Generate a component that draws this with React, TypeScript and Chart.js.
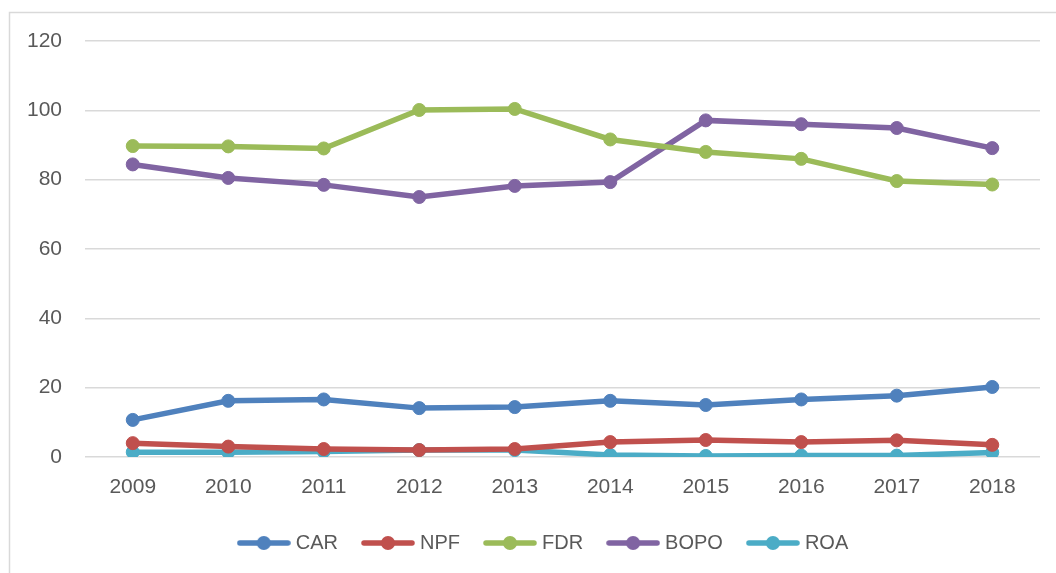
import React, { useEffect, useRef } from "react";
import { Chart, registerables } from "chart.js";

Chart.register(...registerables);

const years = ["2009", "2010", "2011", "2012", "2013", "2014", "2015", "2016", "2017", "2018"];
const carValues = [10.7, 16.2, 16.6, 14.1, 14.4, 16.2, 15.0, 16.6, 17.7, 20.2];
const npfValues = [4.0, 3.0, 2.3, 2.0, 2.3, 4.3, 4.9, 4.3, 4.8, 3.5];
const fdrValues = [89.7, 89.6, 89.0, 100.1, 100.4, 91.6, 88.0, 86.0, 79.6, 78.6];
const bopoValues = [84.4, 80.5, 78.5, 75.0, 78.2, 79.3, 97.1, 96.0, 94.9, 89.1];
const roaValues = [1.4, 1.4, 1.6, 2.0, 2.0, 0.6, 0.3, 0.4, 0.4, 1.3];

const seriesNames = ["CAR", "NPF", "FDR", "BOPO", "ROA"];
const seriesColors = ["#4F81BD", "#C0504D", "#9BBB59", "#8064A2", "#4BACC6"];
const seriesValues = [carValues, npfValues, fdrValues, bopoValues, roaValues];

const FONT = "'Liberation Sans', Arial, sans-serif";
const TEXT = "#595959";
const GRID = "#d9d9d9";

// legend marker image: line with a dot in the middle
function legendMarker(color: string): HTMLCanvasElement {
  const c = document.createElement("canvas");
  c.width = 54;
  c.height = 16;
  const ctx = c.getContext("2d")!;
  ctx.strokeStyle = color;
  ctx.lineWidth = 5.5;
  ctx.lineCap = "round";
  ctx.beginPath();
  ctx.moveTo(3, 8);
  ctx.lineTo(51, 8);
  ctx.stroke();
  ctx.fillStyle = color;
  ctx.beginPath();
  ctx.arc(27, 8, 7, 0, Math.PI * 2);
  ctx.fill();
  return c;
}

const borderPlugin = {
  id: "outerBorder",
  beforeDraw(chart: any) {
    const ctx = chart.ctx;
    ctx.save();
    ctx.fillStyle = "#ffffff";
    ctx.fillRect(0, 0, chart.width, chart.height);
    ctx.strokeStyle = GRID;
    ctx.lineWidth = 1.5;
    ctx.beginPath();
    ctx.moveTo(9.5, chart.height);
    ctx.lineTo(9.5, 12.5);
    ctx.lineTo(chart.width, 12.5);
    ctx.stroke();
    ctx.restore();
  },
};

// shift the legend box so that it is centred like the original
const legendShiftPlugin = {
  id: "legendShift",
  afterLayout(chart: any) {
    const lg = chart.legend;
    if (lg) {
      lg.left = 50;
      lg.right = 1040;
      lg.width = lg.right - lg.left;
    }
  },
};

export default function App() {
  const ref = useRef<HTMLCanvasElement | null>(null);

  useEffect(() => {
    if (!ref.current) return;
    const markers = seriesColors.map((c) => legendMarker(c));
    const chart = new Chart(ref.current, {
      type: "line",
      data: {
        labels: years,
        datasets: seriesNames.map((name, i) => ({
          label: name,
          data: seriesValues[i],
          borderColor: seriesColors[i],
          backgroundColor: seriesColors[i],
          pointBackgroundColor: seriesColors[i],
          pointBorderColor: seriesColors[i],
          borderWidth: 5.5,
          pointRadius: 6.5,
          pointBorderWidth: 1,
          tension: 0,
          fill: false,
        })),
      },
      options: {
        animation: false,
        responsive: false,
        devicePixelRatio: 1,
        layout: { padding: { left: 20, right: 16, top: 41, bottom: 10 } },
        scales: {
          x: {
            offset: true,
            grid: { display: false, drawTicks: false },
            border: { display: false },
            ticks: { color: TEXT, font: { family: FONT, size: 21 }, padding: 18 },
            afterFit(scale: any) {
              scale.height = 48;
            },
          },
          y: {
            min: 0,
            max: 120,
            ticks: { stepSize: 20, color: TEXT, font: { family: FONT, size: 21 }, padding: 23 },
            grid: { color: GRID, lineWidth: 1.5, drawTicks: false },
            border: { display: false },
            afterFit(scale: any) {
              scale.width = 65;
            },
          },
        },
        plugins: {
          tooltip: { enabled: false },
          legend: {
            position: "bottom",
            labels: {
              usePointStyle: true,
              pointStyleWidth: 44,
              padding: 28,
              color: TEXT,
              font: { family: FONT, size: 20 },
              generateLabels(ch: any) {
                const items = Chart.defaults.plugins.legend.labels.generateLabels(ch);
                return items.map((it: any, i: number) => ({
                  ...it,
                  pointStyle: markers[i],
                  lineWidth: 0,
                }));
              },
            },
          },
        },
      },
      plugins: [borderPlugin, legendShiftPlugin],
    } as any);
    return () => chart.destroy();
  }, []);

  return (
    <div style={{ position: "fixed", left: 0, top: 0, width: 1056, height: 573, overflow: "hidden" }}>
      <canvas ref={ref} width={1056} height={573} style={{ display: "block" }} />
    </div>
  );
}
